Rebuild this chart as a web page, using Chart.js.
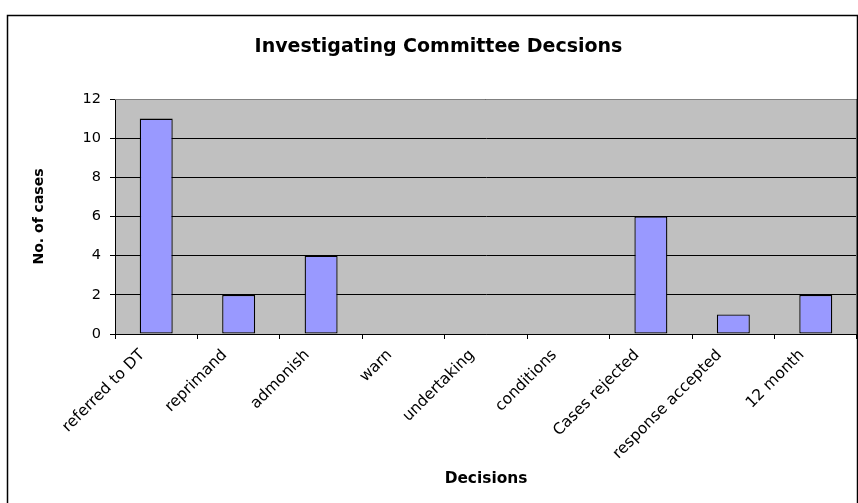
<!DOCTYPE html>
<html>
<head>
<meta charset="utf-8">
<script src="https://cdn.jsdelivr.net/npm/chart.js@4"></script>
<style>
  html, body { margin: 0; padding: 0; background: #ffffff; }
  #wrap { width: 858px; height: 503px; position: relative; }
</style>
</head>
<body>
<div id="wrap"><canvas id="c" width="858" height="503"></canvas></div>
<script>
const categories = ["referred to DT", "reprimand", "admonish", "warn", "undertaking", "conditions", "Cases rejected", "response accepted", "12 month"];
const caseCounts = [11, 2, 4, 0, 0, 0, 6, 1, 2];
const yTicks = [0, 2, 4, 6, 8, 10, 12];
const chartTitle = "Investigating Committee Decsions";
const xTitle = "Decisions";
const yTitle = "No. of cases";

const FONT = "'DejaVu Sans', 'Liberation Sans', Arial, sans-serif";

const backgroundPlugin = {
  id: 'bg',
  beforeDraw(chart) {
    const ctx = chart.ctx;
    const a = chart.chartArea;
    ctx.save();
    ctx.fillStyle = '#ffffff';
    ctx.fillRect(0, 0, chart.width, chart.height);
    ctx.fillStyle = '#C0C0C0';
    ctx.fillRect(a.left, a.top, a.right - a.left, a.bottom - a.top);
    ctx.restore();
  },
  afterDraw(chart) {
    const ctx = chart.ctx;
    const a = chart.chartArea;
    ctx.save();
    ctx.strokeStyle = '#808080';
    ctx.lineWidth = 1;
    ctx.beginPath();
    ctx.moveTo(a.left, a.top + 0.5);
    ctx.lineTo(a.right - 0.5, a.top + 0.5);
    ctx.lineTo(a.right - 0.5, a.bottom);
    ctx.stroke();
    ctx.strokeStyle = '#000000';
    ctx.lineWidth = 1.5;
    ctx.strokeRect(7.5, 15.5, 850, 520);
    ctx.restore();
  }
};

new Chart(document.getElementById('c'), {
  type: 'bar',
  data: {
    labels: categories,
    datasets: [{
      data: caseCounts,
      backgroundColor: '#9999FF',
      borderColor: '#000000',
      borderWidth: 1.3,
      borderSkipped: false,
      categoryPercentage: 1.0,
      barPercentage: 0.4
    }]
  },
  options: {
    responsive: false,
    animation: false,
    devicePixelRatio: 1,
    layout: { padding: { top: 0, left: 20, right: 1, bottom: 0 } },
    plugins: {
      legend: { display: false },
      tooltip: { enabled: false },
      title: {
        display: true,
        text: chartTitle,
        color: '#000000',
        font: { family: FONT, size: 19, weight: 'bold' },
        padding: { top: 35.6, bottom: 40.6 }
      }
    },
    scales: {
      x: {
        offset: true,
        grid: {
          offset: true,
          drawOnChartArea: false,
          drawTicks: true,
          tickLength: 5,
          color: '#000000'
        },
        border: { display: true, color: '#000000', width: 1 },
        ticks: {
          color: '#000000',
          font: { family: FONT, size: 15.5 },
          minRotation: 45,
          maxRotation: 45,
          autoSkip: false,
          padding: 7,
          labelOffset: -14
        },
        title: {
          display: true,
          text: xTitle,
          color: '#000000',
          font: { family: FONT, size: 15.4, weight: 'bold' },
          padding: { top: 0, bottom: 14.75 }
        },
        afterFit(scale) { scale.height = 169; }
      },
      y: {
        min: 0,
        max: 12,
        afterBuildTicks(scale) { scale.ticks = yTicks.map(v => ({ value: v })); },
        grid: {
          color: '#000000',
          lineWidth: 1,
          drawTicks: true,
          tickLength: 5
        },
        border: { display: true, color: '#000000', width: 1 },
        ticks: {
          color: '#000000',
          font: { family: FONT, size: 14.5 },
          padding: 9
        },
        title: {
          display: true,
          text: yTitle,
          color: '#000000',
          font: { family: FONT, size: 14, weight: 'bold' },
          padding: { top: 10.6, bottom: 0 }
        },
        afterFit(scale) { scale.width = 95; }
      }
    }
  },
  plugins: [backgroundPlugin]
});
</script>
</body>
</html>
